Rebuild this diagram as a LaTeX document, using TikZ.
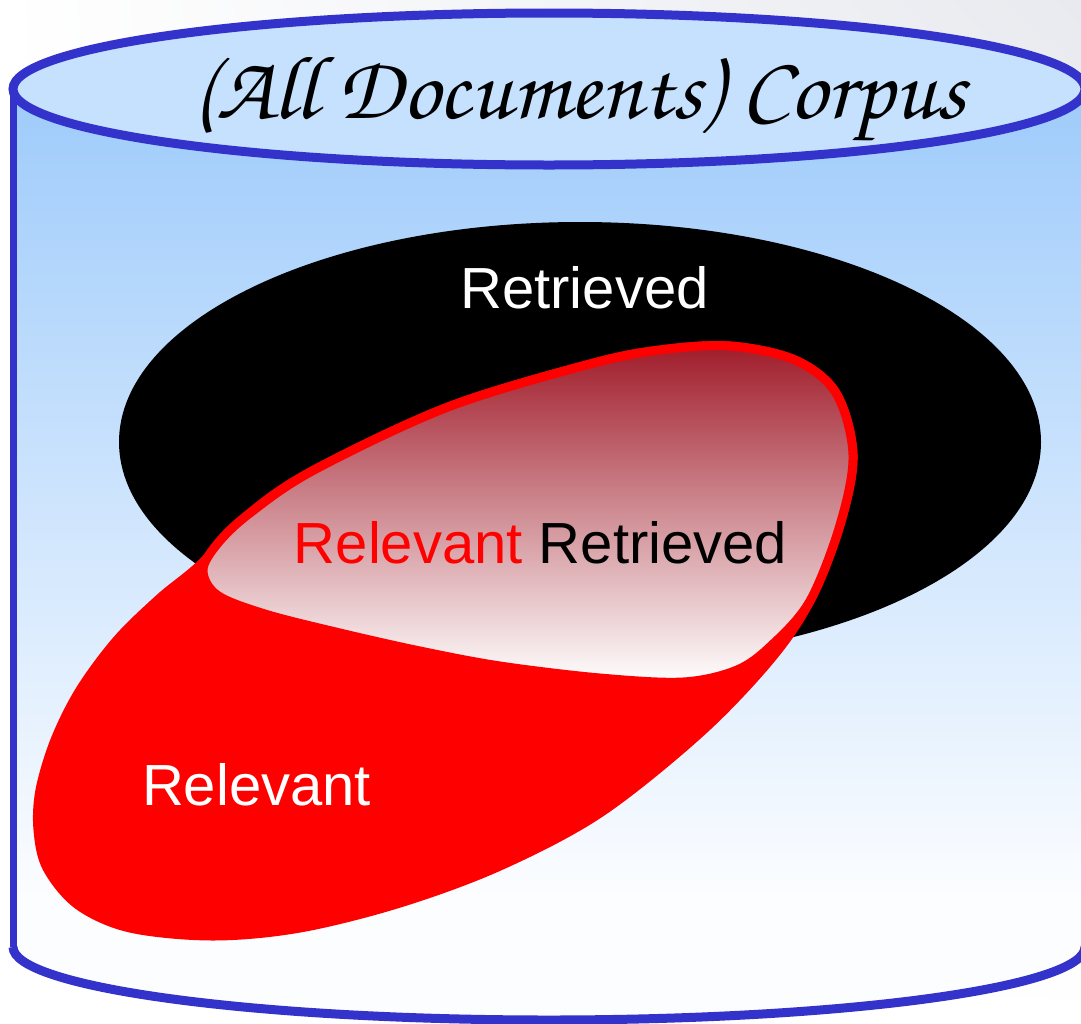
\documentclass[tikz,border=0pt]{standalone}
\usepackage[T1]{fontenc}
\usepackage{fontspec}
\usepackage{graphicx}
\usetikzlibrary{shadings}
\newfontfamily\labelfont{Liberation Sans}
\newcommand{\titlefont}{\fontencoding{T1}\fontfamily{pzc}\fontseries{m}\fontshape{it}\selectfont}

\definecolor{rim}{RGB}{51,51,204}
\definecolor{lidfill}{RGB}{197,225,253}
\definecolor{bodytop}{RGB}{158,203,251}
\definecolor{bodybottom}{RGB}{252,253,255}
\definecolor{cornergray}{RGB}{232,234,239}
\definecolor{hitdark}{RGB}{160,28,42}
\definecolor{hitmid}{RGB}{210,172,174}

% outline of the "Relevant" set
\def\relevantpath{plot[smooth cycle, tension=0.55] coordinates {
  (200,565) (160,598) (117,640) (80,690) (55,740) (40,790) (38,830)
  (47,868) (78,905) (130,928) (213,936) (300,928) (400,903) (500,866)
  (600,813) (700,733) (770,660) (810,601) (840,525) (853,455) (836,393)
  (795,360) (730,346) (660,350) (590,364) (448,407) (314,470) (250,513)}}

% the part of "Relevant" that is also "Retrieved"
\def\overlappath{plot[smooth cycle, tension=0.55] coordinates {
  (203,570) (217,595) (265,614) (340,633) (420,651) (500,666) (600,678)
  (683,682) (737,670) (772,645) (810,601) (840,525) (853,455) (836,393)
  (795,360) (730,346) (660,350) (590,364) (448,407) (314,470) (250,513)
  (218,543)}}

% cylinder body outline
\def\bodypath{(13,89) -- (13,947) arc[start angle=180, end angle=0, x radius=536, y radius=73]
  -- (1085,89) -- cycle}

\tikzset{
  lbl/.style={font=\labelfont\fontsize{58}{60}\selectfont, inner sep=0pt, anchor=base},
  rimline/.style={draw=rim, line width=9pt},
  redline/.style={draw=red, line width=9pt, line join=round},
}

\begin{document}
\begin{tikzpicture}[x=1pt, y=-1pt]
\useasboundingbox (0,0) rectangle (1081,1023);

% page background
\shade[upper left=white, upper right=cornergray, lower left=white, lower right=white]
  (0,0) rectangle (1081,1023);

% cylinder body
\fill[bodybottom] \bodypath;
\begin{scope}
  \clip \bodypath;
  \shade[top color=bodytop, bottom color=bodybottom] (0,89) rectangle (1090,900);
\end{scope}
\draw[rim, line width=7pt] (13,89) -- (13,947);
\draw[rimline] (13,947) arc[start angle=180, end angle=0, x radius=536, y radius=73];

% cylinder lid
\draw[rimline, fill=lidfill] (549,89) ellipse[x radius=536, y radius=76];
\node[anchor=base, inner sep=0pt] (corpus) at (579.5,118)
  {\resizebox{773pt}{64pt}{\titlefont (All Documents) Corpus}};

% retrieved set
\fill[black] (580,442) ellipse[x radius=461, y radius=220];

% relevant set and its overlap with the retrieved set
\path[redline, fill=red] \relevantpath;
\path[redline, top color=hitdark, middle color=hitmid, bottom color=white]
  \overlappath;

% labels
\node[lbl, text=white] (retrieved) at (584.5,308) {Retrieved};
\node[lbl] (relret) at (540.5,563) {\textcolor{red}{Relevant} Retrieved};
\node[lbl, text=white] (relevant) at (256.5,805) {Relevant};
\end{tikzpicture}
\end{document}
